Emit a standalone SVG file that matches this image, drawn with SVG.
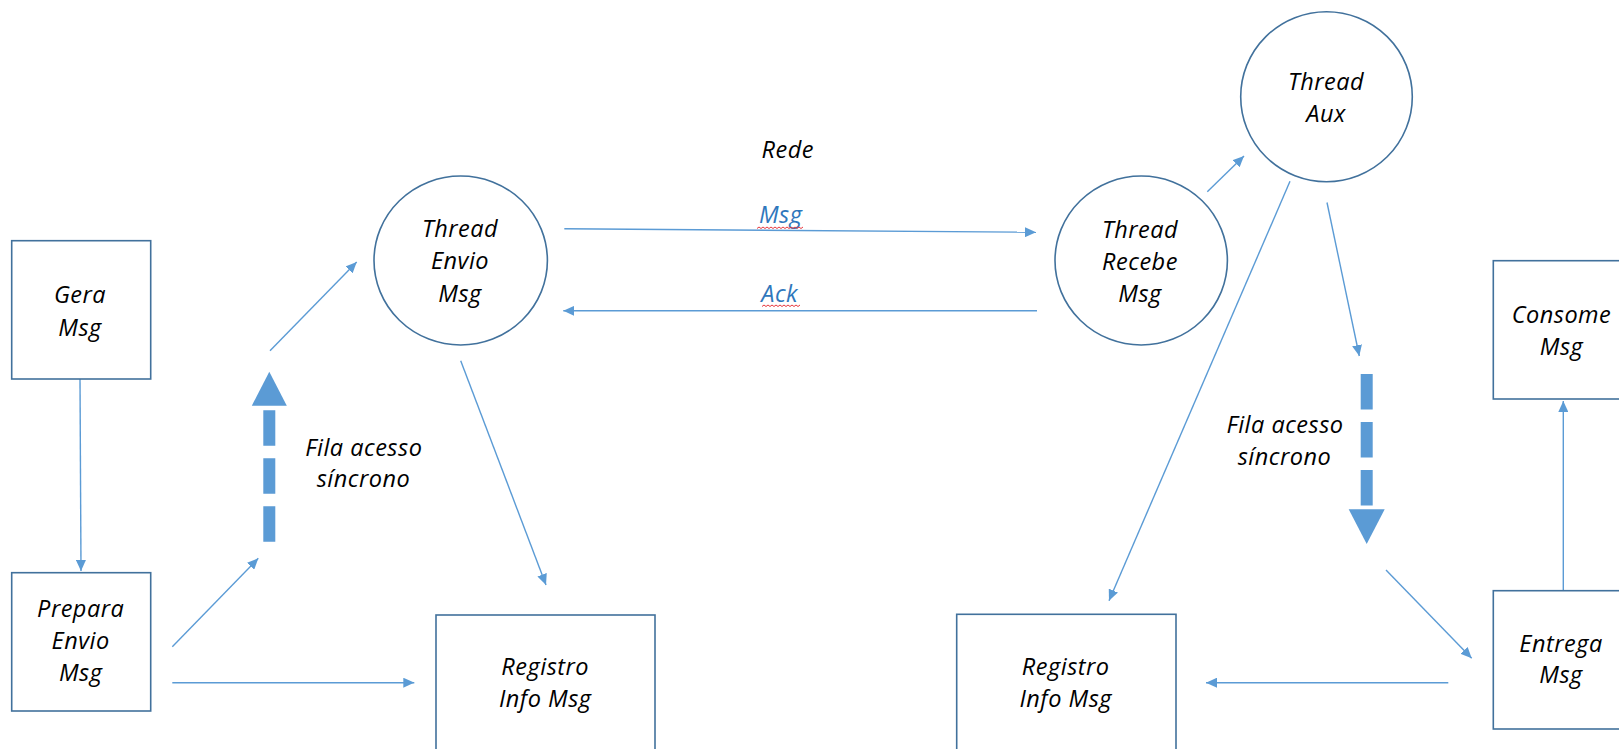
<svg xmlns="http://www.w3.org/2000/svg" width="1619" height="749" viewBox="0 0 1619 749">
<style>
  .box { fill: #ffffff; stroke: #41719C; stroke-width: 1.6; }
  .conn { fill: none; stroke: #5B9BD5; stroke-width: 1.4; marker-end: url(#arr); }
  .queue { fill: none; stroke: #5B9BD5; stroke-width: 12; stroke-dasharray: 35.5 12.5; }
  .qhead { fill: #5B9BD5; }
  text { font-family: "Open Sans", "Noto Sans", "Liberation Sans", sans-serif; font-style: italic; font-size: 23.5px; letter-spacing: 0.5px; fill: #000000; text-anchor: middle; }
  .lbl { fill: #2F77BC; }
  .squig { fill: none; stroke: #E8383D; stroke-width: 1; }
</style>
<defs>
  <marker id="arr" markerUnits="userSpaceOnUse" markerWidth="11" markerHeight="10" refX="11" refY="5" orient="auto">
    <path d="M0,0 L11,5 L0,10 Z" fill="#5B9BD5"/>
  </marker>
</defs>
<rect width="1619" height="749" fill="#ffffff"/>

<g id="connectors">
  <line class="conn" x1="80" y1="379" x2="81" y2="571"/>
  <line class="conn" x1="172.3" y1="646.7" x2="258.3" y2="558.3"/>
  <line class="conn" x1="172.3" y1="682.7" x2="414.3" y2="682.7"/>
  <line class="conn" x1="270" y1="350.7" x2="356.7" y2="262"/>
  <line class="conn" x1="460.7" y1="360.7" x2="546" y2="585"/>
  <line class="conn" x1="564.3" y1="228.7" x2="1036" y2="232.3"/>
  <line class="conn" x1="1037" y1="310.8" x2="563.3" y2="310.8"/>
  <line class="conn" x1="1207.3" y1="191.7" x2="1244" y2="156"/>
  <line class="conn" x1="1290" y1="181.3" x2="1109" y2="600.7"/>
  <line class="conn" x1="1327" y1="202.5" x2="1359.3" y2="356"/>
  <line class="conn" x1="1386" y1="570" x2="1471.7" y2="658.3"/>
  <line class="conn" x1="1448.3" y1="682.7" x2="1206" y2="682.7"/>
  <line class="conn" x1="1563.3" y1="590" x2="1563.3" y2="401"/>
  <g id="queue-left">
    <line class="queue" x1="269.3" y1="541.7" x2="269.3" y2="410"/>
    <polygon class="qhead" points="269.3,371.7 286.8,405.7 251.8,405.7"/>
  </g>
  <g id="queue-right">
    <line class="queue" x1="1366.7" y1="374" x2="1366.7" y2="506"/>
    <polygon class="qhead" points="1348.7,509.3 1384.7,509.3 1366.7,544"/>
  </g>
  <g id="label-msg">
    <text class="lbl" x="780.7" y="223.3">Msg</text>
    <path class="squig" d="M757,228.5 l2,-1.5 l2,1.5 l2,-1.5 l2,1.5 l2,-1.5 l2,1.5 l2,-1.5 l2,1.5 l2,-1.5 l2,1.5 l2,-1.5 l2,1.5 l2,-1.5 l2,1.5 l2,-1.5 l2,1.5 l2,-1.5 l2,1.5 l2,-1.5 l2,1.5 l2,-1.5 l2,1.5 l2,-1.5"/>
  </g>
  <g id="label-ack">
    <text class="lbl" x="779.7" y="301.7">Ack</text>
    <path class="squig" d="M762,306.5 l2,-1.5 l2,1.5 l2,-1.5 l2,1.5 l2,-1.5 l2,1.5 l2,-1.5 l2,1.5 l2,-1.5 l2,1.5 l2,-1.5 l2,1.5 l2,-1.5 l2,1.5 l2,-1.5 l2,1.5 l2,-1.5 l2,1.5 l2,-1.5"/>
  </g>
</g>

<g id="gera-msg">
  <rect class="box" x="11.7" y="240.7" width="139" height="138.3"/>
  <text x="80" y="303.3">Gera</text>
  <text x="80" y="336">Msg</text>
</g>
<g id="prepara-envio-msg">
  <rect class="box" x="11.7" y="572.7" width="139" height="138.3"/>
  <text x="80.7" y="617.3">Prepara</text>
  <text x="80.7" y="649.3">Envio</text>
  <text x="80.7" y="681">Msg</text>
</g>
<g id="thread-envio-msg">
  <ellipse class="box" cx="460.7" cy="260.5" rx="86.7" ry="84.5"/>
  <text x="460" y="237.3">Thread</text>
  <text x="460" y="269.3">Envio</text>
  <text x="460" y="301.7">Msg</text>
</g>
<g id="registro-info-msg-1">
  <rect class="box" x="436" y="615" width="219" height="150"/>
  <text x="545.2" y="675">Registro</text>
  <text x="545.2" y="706.7">Info Msg</text>
</g>
<g id="thread-recebe-msg">
  <ellipse class="box" cx="1141.2" cy="260.5" rx="86.2" ry="84.5"/>
  <text x="1140" y="238.3">Thread</text>
  <text x="1140" y="270">Recebe</text>
  <text x="1140" y="301.7">Msg</text>
</g>
<g id="thread-aux">
  <ellipse class="box" cx="1326.5" cy="96.7" rx="85.8" ry="85"/>
  <text x="1326" y="90">Thread</text>
  <text x="1326" y="121.7">Aux</text>
</g>
<g id="registro-info-msg-2">
  <rect class="box" x="956.7" y="614.3" width="219.3" height="150"/>
  <text x="1065.7" y="675">Registro</text>
  <text x="1065.7" y="706.7">Info Msg</text>
</g>
<g id="consome-msg">
  <rect class="box" x="1493.3" y="260.7" width="139" height="138.3"/>
  <text x="1561.5" y="323.3">Consome</text>
  <text x="1561.5" y="355">Msg</text>
</g>
<g id="entrega-msg">
  <rect class="box" x="1493.3" y="590.7" width="139" height="138.3"/>
  <text x="1561" y="651.7">Entrega</text>
  <text x="1561" y="683.3">Msg</text>
</g>

<g id="labels">
  <text x="787.8" y="157.7">Rede</text>
  <text x="363.8" y="456">Fila acesso</text>
  <text x="363.5" y="487.3">síncrono</text>
  <text x="1285" y="433.3">Fila acesso</text>
  <text x="1284.5" y="465">síncrono</text>
</g>
</svg>
